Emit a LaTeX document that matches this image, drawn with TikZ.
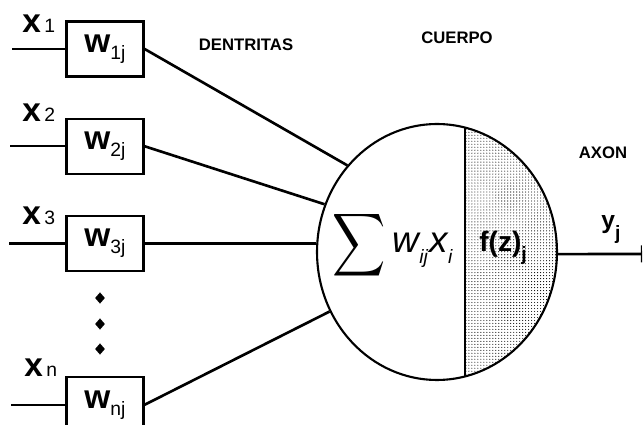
\documentclass[tikz,border=0pt]{standalone}
\usepackage{fontspec}
\setmainfont{Liberation Sans}
\usepackage{graphicx}
\usetikzlibrary{positioning, shapes.geometric, patterns.meta, arrows.meta}

\newcommand{\plainidx}[1]{{\fontsize{11}{11}\selectfont\mdseries #1}}
\newcommand{\lowsub}[2][4pt]{\raisebox{-#1}{\plainidx{#2}}}

\begin{document}
\begin{tikzpicture}[
        x=0.02cm, y=-0.02cm,
        node distance=0.8cm,
        weight/.style={
            rectangle,
            draw=black,
            line width=1.3pt,
            minimum width=1.54cm,
            minimum height=1.1cm,
            inner sep=0pt,
            font=\fontsize{19}{19}\selectfont\bfseries
        },
        inlabel/.style={anchor=base west, inner sep=0pt, font=\fontsize{19}{19}\selectfont\bfseries},
        tag/.style={inner sep=0pt, font=\fontsize{9.5}{10}\selectfont\bfseries},
        dotmark/.style={diamond, fill=black, inner sep=0pt, minimum width=0.2cm, minimum height=0.23cm},
        soma/.style={
            ellipse,
            draw=black,
            line width=1.2pt,
            minimum width=4.8cm,
            minimum height=5.12cm,
            inner sep=0pt
        },
        wire/.style={line width=1.2pt},
        dendrite/.style={line width=1.5pt}
    ]
    \useasboundingbox (0,0) rectangle (643,425);

    % Weights column
    \node[weight] (w1) at (105,49) {w\lowsub{1j}};
    \node[weight, below=of w1]       (w2) {w\lowsub{2j}};
    \node[weight, below=of w2]       (w3) {w\lowsub{3j}};
    \node[weight, below=2.08cm of w3] (wn) {w\lowsub{nj}};

    % Inputs
    \node[inlabel] (x1) at (22,33)  {x\hspace{2pt}\plainidx{1}};
    \node[inlabel] (x2) at (22,122) {x\hspace{2pt}\plainidx{2}};
    \node[inlabel] (x3) at (22,225) {x\hspace{2pt}\plainidx{3}};
    \node[inlabel] (xn) at (24,377) {x\hspace{2pt}\plainidx{n}};
    \coordinate[left=1.06cm of w1.west] (in1);
    \coordinate[left=1.1cm of w2.west]  (in2);
    \coordinate[left=1.12cm of w3.west] (in3);
    \coordinate[left=1.08cm of wn.west] (inn);

    \node[dotmark] (d1) at (100,298) {};
    \node[dotmark] (d2) at (100,324) {};
    \node[dotmark] (d3) at (100,349) {};

    % Cell body, the right part dotted
    \coordinate (split) at (465,252);
    \node[soma, path picture={
            \fill[pattern={Dots[distance=1.7pt, radius=0.32pt]}]
                (split |- path picture bounding box.north) rectangle (path picture bounding box.south east);
            \draw[line width=1.2pt] (split |- path picture bounding box.north) -- (split |- path picture bounding box.south);
        }] (soma) at (437,252) {};

    \node[anchor=base west, inner sep=0pt] (sum) at (332,253)
        {\raisebox{-2pt}{\scalebox{2.1}[2.5]{$\displaystyle\sum$}}\hspace{4pt}{\fontsize{21}{21}\selectfont\itshape w}\lowsub[6pt]{\itshape ij}\hspace{1pt}{\fontsize{21}{21}\selectfont\itshape x}\lowsub[6pt]{\itshape i}};
    \node[anchor=base west, inner sep=0pt, font=\fontsize{16}{16}\selectfont\bfseries] (fz) at (479,252) {f(z)\lowsub[5pt]{\bfseries j}};
    \node[anchor=base west, inner sep=0pt, font=\fontsize{14}{14}\selectfont\bfseries] (yj) at (601,229) {y\lowsub[6pt]{\bfseries j}};
    \coordinate (yend) at (642,254);

    % Labels
    \node[tag] (dendritas) at (246,45)  {DENTRITAS};
    \node[tag] (cuerpo)    at (457,38)  {CUERPO};
    \node[tag] (axon)      at (603,153) {AXON};

    % Connectors
    \draw[wire] (in1) -- (w1.west);
    \draw[wire] (in2) -- (w2.west);
    \draw[wire] (in3) -- (w3.west);
    \draw[wire] (inn) -- (wn.west);

    \draw[dendrite] (w1.east) -- (soma.136);
    \draw[dendrite] (w2.east) -- (soma.157);
    \draw[dendrite] (w3.east) -- (soma.176);
    \draw[dendrite] (wn.east) -- (soma.209);

    \draw[dendrite, -{Bar[width=0.34cm, line width=0.6pt]}] (soma.-1) -- (yend);

    \end{tikzpicture}
\end{document}
